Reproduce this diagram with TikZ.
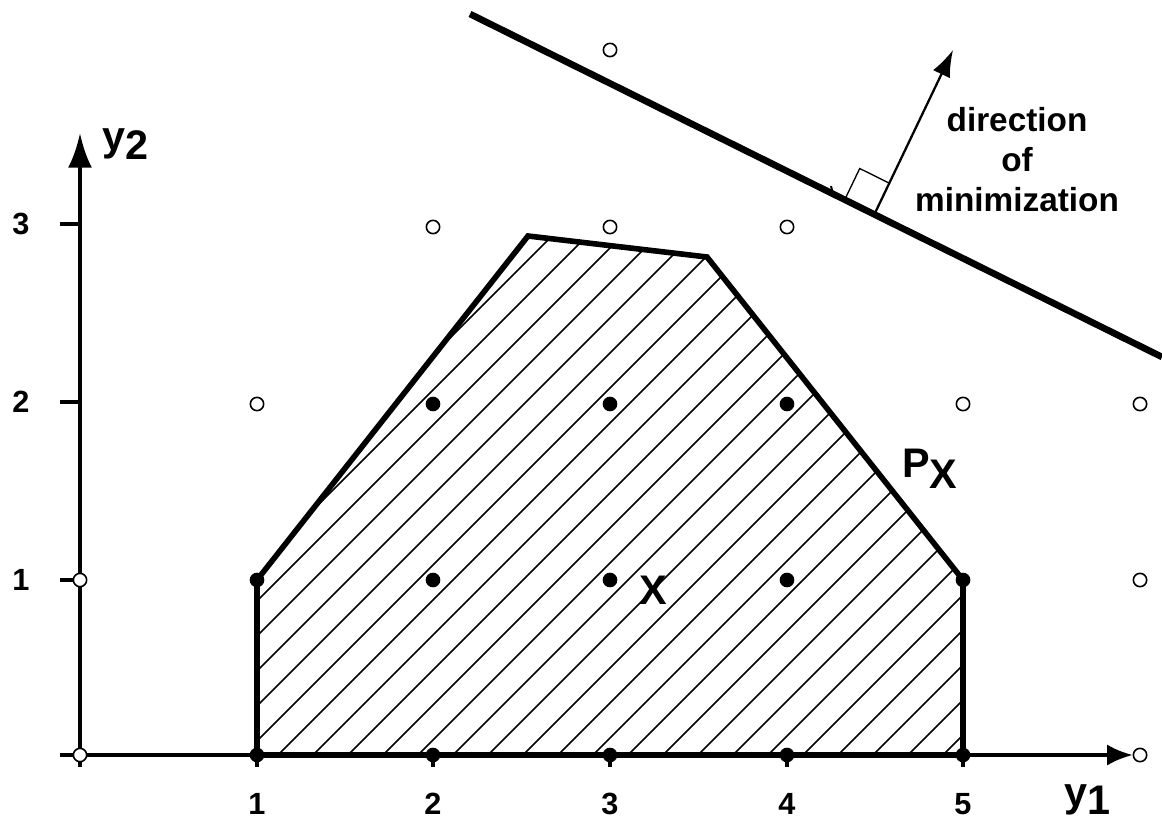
\documentclass[tikz,border=0pt]{standalone}
\usepackage{fontspec}
\setmainfont{Liberation Sans}
\usetikzlibrary{arrows.meta}
\begin{document}
\begin{tikzpicture}[x=0.75pt,y=-0.75pt,
  odot/.style={circle,draw=black,fill=white,line width=1.2pt,inner sep=0pt,minimum size=10pt},
  fdot/.style={circle,fill=black,inner sep=0pt,minimum size=11pt},
  axisline/.style={line width=3.2pt},
  ticklab/.style={font=\fontsize{23}{25}\selectfont\bfseries,inner sep=0.5pt},
  biglab/.style={font=\fontsize{31}{34}\selectfont\bfseries,inner sep=0.5pt},
  dirlab/.style={font=\fontsize{25}{28}\selectfont\bfseries,anchor=base},
  hatchline/.style={line width=1.1pt},
  polyline/.style={line width=4.2pt,line join=miter},
  objline/.style={line width=5pt}]
\useasboundingbox (0,0) rectangle (1162,823);

% polygon corners
\coordinate (p1) at (257,580);
\coordinate (p2) at (528,236);
\coordinate (p3) at (707,257);
\coordinate (p4) at (963,580);
\coordinate (p5) at (963,755);
\coordinate (p6) at (257,755);

% hatching
\begin{scope}
\clip (p1) -- (p2) -- (p3) -- (p4) -- (p5) -- (p6) -- cycle;
\foreach \c in {753,788,...,1733}
  \draw[hatchline] (\c-800,800) -- (\c-200,200);
\end{scope}

% axes
\coordinate (ybot) at (80,767);
\coordinate (ytop) at (80,133);
\coordinate (xleft) at (60,755);
\coordinate (xright) at (1133,755);
\draw[axisline,-{Latex[length=26pt,width=18pt]}] (ybot) -- (ytop);
\draw[axisline,-{Latex[length=19.5pt,width=16pt]}] (xleft) -- (xright);
\foreach \yy in {224,402,580,755}
  \draw[axisline] (60,\yy) -- (80,\yy);
\foreach \xx in {80,257,433,610,787,963}
  \draw[axisline] (\xx,755) -- (\xx,767);

% polygon outline
\draw[polyline] (p1) -- (p2) -- (p3) -- (p4) -- (p5) -- (p6) -- cycle;

% objective line and direction
\coordinate (oa) at (470,14);
\coordinate (ob) at (1162,357);
\draw[objline] (oa) -- (ob);
\coordinate (db) at (875,213);
\coordinate (dt) at (953,50);
\draw[line width=1.7pt,-{Latex[length=20pt,width=14pt]}] (db) -- (dt);
\coordinate (r1) at (845.4,198.3);
\coordinate (r2) at (859.7,168.5);
\coordinate (r3) at (889.3,183.2);
\draw[line width=1pt] (r1) -- (r2) -- (r3);
\coordinate (s1) at (832.5,192);
\coordinate (s2) at (831,186);
\draw[line width=1.5pt] (s1) -- (s2);

% open circles
\foreach \n/\px/\py in {o1/80/580,o2/80/755,o3/257/404,o4/963/404,o5/1140/404,o6/1140/580,o7/1140/755,o8/433/227,o9/610/227,o10/787/227,o11/610/50}
  \node[odot] (\n) at (\px,\py) {};

% filled dots
\foreach \n/\px/\py in {f1/257/580,f2/433/580,f3/610/580,f4/787/580,f5/963/580,f6/433/404,f7/610/404,f8/787/404,f9/257/755,f10/433/755,f11/610/755,f12/787/755,f13/963/755}
  \node[fdot] (\n) at (\px,\py) {};

% tick labels
\node[ticklab] (ly3) at (21,224) {3};
\node[ticklab] (ly2) at (21,402) {2};
\node[ticklab] (ly1) at (21,580) {1};
\node[ticklab,anchor=base] (lx1) at (257,814) {1};
\node[ticklab,anchor=base] (lx2) at (433,814) {2};
\node[ticklab,anchor=base] (lx3) at (610,814) {3};
\node[ticklab,anchor=base] (lx4) at (787,814) {4};
\node[ticklab,anchor=base] (lx5) at (963,814) {5};

% axis labels
\node[biglab,anchor=base] (yl2) at (125,151) {y\raisebox{-0.2em}{2}};
\node[biglab,anchor=base] (yl1) at (1087,806) {y\raisebox{-0.2em}{1}};

% set labels
\node[biglab,anchor=base west,inner sep=0pt] (px) at (902,477) {P\raisebox{-0.28em}{X}};
\node[biglab] (xl) at (653,590) {X};

% direction text
\node[dirlab] (d1) at (1017,132) {direction};
\node[dirlab] (d2) at (1017,172) {of};
\node[dirlab] (d3) at (1017,212) {minimization};
\end{tikzpicture}
\end{document}
